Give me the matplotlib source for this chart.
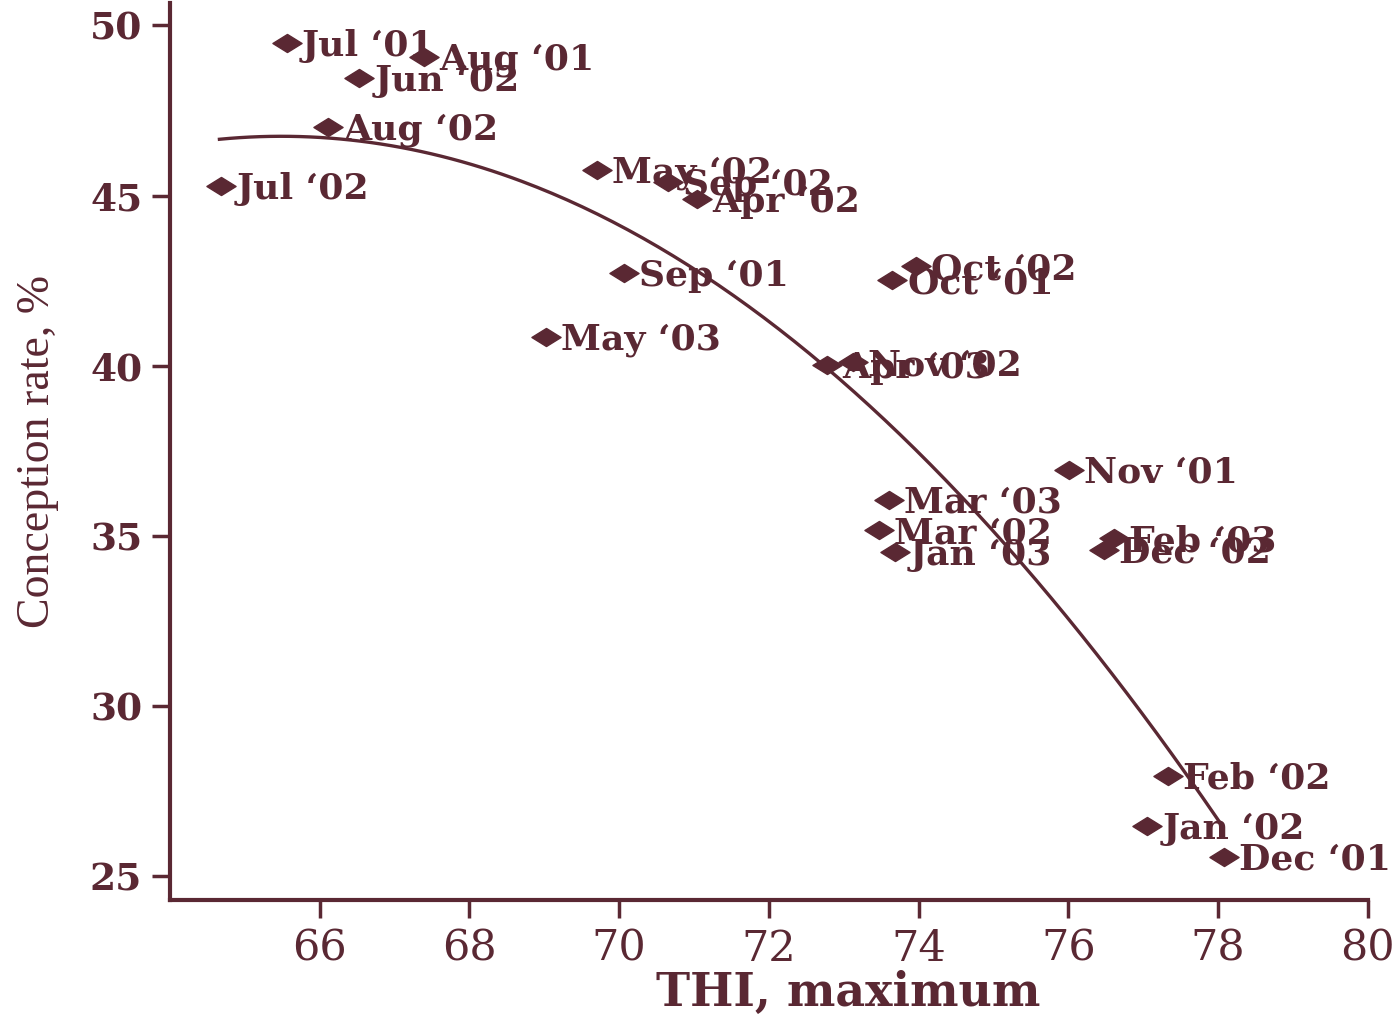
import numpy as np
import matplotlib
matplotlib.use('Agg')
import matplotlib.pyplot as plt
from matplotlib.path import Path

color = '#5a2833'

months = ['Jul ‘01', 'Aug ‘01', 'Jun ‘02', 'Aug ‘02', 'Jul ‘02', 'May ‘02', 'Sep ‘02', 'Apr ‘02',
          'Sep ‘01', 'May ‘03', 'Oct ‘02', 'Oct ‘01', 'Apr ‘03', 'Nov ‘02', 'Nov ‘01', 'Mar ‘03',
          'Mar ‘02', 'Jan ‘03', 'Feb ‘03', 'Dec ‘02', 'Feb ‘02', 'Jan ‘02', 'Dec ‘01']
thi_max = [65.56, 67.39, 66.53, 66.11, 64.68, 69.70, 70.65, 71.04,
           70.06, 69.02, 73.96, 73.65, 72.77, 73.12, 76.01, 73.60,
           73.47, 73.68, 76.61, 76.47, 77.33, 77.05, 78.08]
conception = [49.47, 49.06, 48.44, 47.01, 45.27, 45.74, 45.39, 44.89,
              42.71, 40.83, 42.92, 42.51, 40.01, 40.10, 36.93, 36.05,
              35.16, 34.52, 34.93, 34.58, 27.94, 26.47, 25.56]

# points
trend_x = [64.66, 66.23, 67.56, 68.44, 69.78, 70.54, 71.44, 72.32, 73.12, 73.75, 75.58, 77.31, 78.06]
trend_y = [46.68, 46.56, 46.12, 45.74, 44.48, 43.48, 42.21, 40.83, 39.28, 37.81, 33.49, 28.99, 26.44]

x = np.array(thi_max)
y = np.array(conception)

# quadratic trend line
coef = np.polyfit(trend_x, trend_y, 2)
xs = np.linspace(min(trend_x), max(trend_x), 200)
ys = np.polyval(coef, xs)

fig = plt.figure(figsize=(13.96, 10.19), dpi=100)
ax = fig.add_axes([0.1218, 0.1168, 0.858, 0.880])

diamond = Path([(-1, 0), (0, 0.62), (1, 0), (0, -0.62), (-1, 0)],
               [Path.MOVETO, Path.LINETO, Path.LINETO, Path.LINETO, Path.CLOSEPOLY])
ax.plot(x, y, linestyle='none', marker=diamond, markersize=21, color=color, zorder=3)
ax.plot(xs, ys, color=color, linewidth=2.4, zorder=2)

for m, xi, yi in zip(months, x, y):
    ax.annotate(m, (xi, yi), xytext=(11, -2), textcoords='offset points', va='center', ha='left',
                fontsize=26, fontweight='bold', family='DejaVu Serif', color=color, zorder=4)

ax.set_xlim(64, 80)
ax.set_ylim(24.3, 50.65)
ax.set_xticks([66, 68, 70, 72, 74, 76, 78, 80])
ax.set_yticks([25, 30, 35, 40, 45, 50])

for s in ['top', 'right']:
    ax.spines[s].set_visible(False)
for s in ['left', 'bottom']:
    ax.spines[s].set_color(color)
    ax.spines[s].set_linewidth(3)

ax.tick_params(axis='both', direction='out', length=13, width=2.5, color=color)
ax.tick_params(axis='x', pad=7)
ax.tick_params(axis='y', pad=7)
for lab in ax.get_xticklabels():
    lab.set_fontfamily('DejaVu Serif')
    lab.set_fontsize(31)
    lab.set_color(color)
for lab in ax.get_yticklabels():
    lab.set_fontfamily('DejaVu Serif')
    lab.set_fontweight('bold')
    lab.set_fontsize(27)
    lab.set_color(color)

ax.set_xlabel('THI, maximum', fontsize=33, fontweight='bold', family='DejaVu Serif', color=color)
ax.xaxis.set_label_coords(0.566, -0.078)
ax.set_ylabel('Conception rate, %', fontsize=33, family='Liberation Serif', color=color, labelpad=22)

fig.savefig('out.png', dpi=100)
